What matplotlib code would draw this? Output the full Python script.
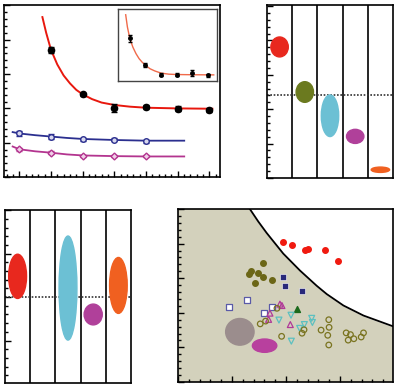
import numpy as np
import matplotlib
matplotlib.use("Agg")
import matplotlib.pyplot as plt
from matplotlib.patches import Ellipse
from matplotlib.ticker import MultipleLocator, NullFormatter

# ── panel A: decay curves ──
x_black = [2, 3, 4, 5, 6, 7]
y_black = [3.71, 2.41, 2.02, 2.04, 1.99, 1.96]
e_black = [0.09, 0.04, 0.12, 0.05, 0.07, 0.06]
fit_red_x = [1.73, 1.85, 2.0, 2.2, 2.4, 2.6, 2.8, 3.0, 3.3, 3.6, 4.0, 4.5, 5.0, 6.0, 7.1]
fit_red_y = [4.66, 4.20, 3.71, 3.28, 2.96, 2.73, 2.54, 2.41, 2.27, 2.17, 2.10, 2.05, 2.02, 2.00, 1.99]

x_blue = [1, 2, 3, 4, 5]
y_blue = [1.27, 1.18, 1.10, 1.09, 1.04]
e_blue = [0.08, 0.06, 0.04, 0.04, 0.04]
fit_blue_x = [0.79, 1.0, 1.5, 2.0, 2.5, 3.0, 4.0, 5.0, 6.21]
fit_blue_y = [1.31, 1.27, 1.22, 1.18, 1.14, 1.11, 1.08, 1.06, 1.06]

x_mag = [1, 2, 3, 4, 5]
y_mag = [0.81, 0.71, 0.62, 0.61, 0.60]
e_mag = [0.04, 0.04, 0.03, 0.03, 0.03]
fit_mag_x = [0.79, 1.0, 1.5, 2.0, 2.5, 3.0, 4.0, 5.0, 6.21]
fit_mag_y = [0.89, 0.81, 0.75, 0.71, 0.66, 0.63, 0.61, 0.60, 0.60]

# inset
x_in = [1, 2, 3, 4, 5, 6]
y_in = [0.595, 0.219, 0.088, 0.088, 0.107, 0.079]
e_in = [0.05, 0.03, 0.025, 0.02, 0.04, 0.025]
fit_in_x = [0.74, 0.85, 1.0, 1.2, 1.4, 1.6, 1.8, 2.0, 2.3, 2.6, 3.0, 3.5, 4.0, 5.0, 6.38]
fit_in_y = [0.92, 0.75, 0.595, 0.47, 0.38, 0.31, 0.26, 0.22, 0.17, 0.14, 0.11, 0.095, 0.09, 0.087, 0.085]

# ── panel B: ellipses per column ──
b_cols = [0.5, 1.5, 2.5, 3.5, 4.5]
b_y = [3.81, 2.50, 1.81, 1.21, 0.24]
b_h = [0.58, 0.60, 1.21, 0.41, 0.155]
b_w = [0.69, 0.69, 0.69, 0.69, 0.73]
b_colors = ["#e8281e", "#6b7a1f", "#6cc0d4", "#b0409a", "#f06020"]
b_ref = 2.41

# ── panel C ──
c_cols = [0.5, 2.5, 3.5, 4.5]
c_y = [0.48, 0.21, -0.40, 0.27]
c_h = [1.02, 2.40, 0.48, 1.29]
c_w = [0.71, 0.71, 0.72, 0.70]
c_colors = ["#e8281e", "#6cc0d4", "#b0409a", "#f06020"]
c_ref = 0.0

# ── panel D: scatter with boundary ──
bound_x = [1.330, 1.485, 1.640, 1.949, 2.259, 2.568, 2.754, 3.063, 3.434, 3.979]
bound_y = [5.00, 4.64, 4.31, 3.71, 3.22, 2.78, 2.54, 2.21, 1.92, 1.61]
red_x = [1.937, 2.116, 2.345, 2.413, 2.729, 2.958]
red_y = [4.06, 3.97, 3.82, 3.85, 3.82, 3.50]
olf_x = [1.572, 1.349, 1.312, 1.473, 1.572, 1.733, 1.417]
olf_y = [3.44, 3.20, 3.12, 3.15, 3.03, 2.95, 2.85]
nsq_x = [1.949, 1.974, 2.296]
nsq_y = [3.03, 2.78, 2.64]
osq_x = [0.953, 1.275, 1.597, 1.733]
osq_y = [2.18, 2.36, 1.99, 2.18]
tri_x = [1.887, 1.924, 1.702, 1.677, 2.079]
tri_y = [2.25, 2.21, 1.99, 1.81, 1.66]
gtri_x = [2.209]
gtri_y = [2.11]
dtri_x = [1.869, 2.092, 2.252, 2.339, 2.475, 2.488, 2.098]
dtri_y = [1.79, 1.93, 1.55, 1.66, 1.84, 1.72, 1.18]
oci_x = [1.522, 1.621, 1.832, 1.918, 2.296, 2.333, 2.649, 2.791, 2.797, 2.772, 2.791,
         3.113, 3.150, 3.193, 3.255, 3.391, 3.434]
oci_y = [1.68, 1.76, 2.13, 1.32, 1.41, 1.51, 1.50, 1.80, 1.58, 1.35, 1.07,
         1.42, 1.21, 1.37, 1.25, 1.30, 1.42]
gray_blob = (1.145, 1.45, 0.526, 0.77)
mag_blob = (1.603, 1.05, 0.452, 0.385)


def style(ax, xminor=None, xmajor=None, yminor=0.2, ymajor=1.0, bottom=True):
    for s in ax.spines.values():
        s.set_linewidth(1.2)
    ax.yaxis.set_major_locator(MultipleLocator(ymajor))
    ax.yaxis.set_minor_locator(MultipleLocator(yminor))
    if bottom:
        ax.xaxis.set_major_locator(MultipleLocator(xmajor))
        ax.xaxis.set_minor_locator(MultipleLocator(xminor))
    else:
        ax.set_xticks([])
    ax.tick_params(which="both", direction="in", top=False, right=False,
                   labelleft=False, labelbottom=False, width=1.0, bottom=bottom)
    ax.tick_params(which="major", length=4)
    ax.tick_params(which="minor", length=2)


fig = plt.figure(figsize=(4, 3.9), dpi=100)

# panel A
ax1 = fig.add_axes([0.01, 0.546, 0.54, 0.441])
ax1.plot(fit_red_x, fit_red_y, color="#e8180e", lw=1.4)
ax1.errorbar(x_black, y_black, yerr=e_black, fmt="o", color="black", ms=4.5,
             capsize=2, elinewidth=1.2)
ax1.plot(fit_blue_x, fit_blue_y, color="#2b2f8f", lw=1.3)
ax1.errorbar(x_blue, y_blue, yerr=e_blue, fmt="o", color="#2b2f8f", mfc="#d8d8ee",
             ms=4, capsize=2, elinewidth=1)
ax1.plot(fit_mag_x, fit_mag_y, color="#b3348f", lw=1.3)
ax1.errorbar(x_mag, y_mag, yerr=e_mag, fmt="D", color="#b3348f", mfc="#f0d0e8",
             ms=3.5, capsize=2, elinewidth=1)
ax1.set_xlim(0.517, 7.34)
ax1.set_ylim(0, 5.01)
style(ax1, xminor=0.2, xmajor=1.0)

axi = fig.add_axes([0.295, 0.7923, 0.2475, 0.1846])
axi.plot(fit_in_x, fit_in_y, color="#f06a4a", lw=1.0)
axi.errorbar(x_in, y_in, yerr=e_in, fmt="o", color="black", ms=2.5, capsize=1.2,
             elinewidth=0.9)
axi.set_xlim(0.247, 6.59)
axi.set_ylim(0, 1.0)
axi.set_xticks([])
axi.set_yticks([])
for s in axi.spines.values():
    s.set_linewidth(1.0)
    s.set_color("#444444")

# panel B
ax2 = fig.add_axes([0.6675, 0.5436, 0.315, 0.4436])
for xc, yc, w, h, c in zip(b_cols, b_y, b_w, b_h, b_colors):
    ax2.add_patch(Ellipse((xc, yc), w, h, color=c, zorder=3))
ax2.axhline(b_ref, color="#333333", lw=1.2, ls=(0, (1, 1)), zorder=2)
for xv in range(1, 5):
    ax2.axvline(xv, color="black", lw=1.2, zorder=1)
ax2.set_xlim(0, 5)
ax2.set_ylim(0, 5.03)
style(ax2, bottom=False)

# panel C
ax3 = fig.add_axes([0.0125, 0.01795, 0.315, 0.4436])
for xc, yc, w, h, c in zip(c_cols, c_y, c_w, c_h, c_colors):
    ax3.add_patch(Ellipse((xc, yc), w, h, color=c, zorder=3))
ax3.axhline(c_ref, color="#333333", lw=1.2, ls=(0, (1, 1)), zorder=2)
for xv in range(1, 5):
    ax3.axvline(xv, color="black", lw=1.2, zorder=1)
ax3.set_xlim(0, 5)
ax3.set_ylim(-1.98, 2.01)
style(ax3, bottom=False)

# panel D
ax4 = fig.add_axes([0.445, 0.0205, 0.5375, 0.4436])
ax4.set_facecolor("#d3d1bc")
ax4.fill_between(bound_x, bound_y, 5.0, color="white", zorder=1)
ax4.plot(bound_x, bound_y, color="black", lw=1.3, zorder=2)
gx, gy, gw, gh = gray_blob
ax4.add_patch(Ellipse((gx, gy), gw, gh, color="#9b8d8d", zorder=3))
mx, my, mw, mh = mag_blob
ax4.add_patch(Ellipse((mx, my), mw, mh, color="#b8409e", zorder=3))
ax4.scatter(red_x, red_y, s=16, color="#f01a10", zorder=4)
ax4.scatter(olf_x, olf_y, s=16, color="#6b6616", zorder=4)
ax4.scatter(nsq_x, nsq_y, s=14, marker="s", color="#28287a", edgecolor="white",
            linewidth=0.4, zorder=4)
ax4.scatter(osq_x, osq_y, s=14, marker="s", facecolor="white", edgecolor="#5a5aa8",
            linewidth=0.9, zorder=4)
ax4.scatter(tri_x, tri_y, s=18, marker="^", facecolor="none", edgecolor="#b03898",
            linewidth=0.9, zorder=4)
ax4.scatter(gtri_x, gtri_y, s=18, marker="^", color="#1c6a1c", zorder=4)
ax4.scatter(dtri_x, dtri_y, s=18, marker="v", facecolor="none", edgecolor="#5cc0c0",
            linewidth=0.9, zorder=4)
ax4.scatter(oci_x, oci_y, s=16, facecolor="none", edgecolor="#7a7420",
            linewidth=0.9, zorder=4)
ax4.set_xlim(0, 3.98)
ax4.set_ylim(0, 5.0)
style(ax4, xminor=0.2, xmajor=1.0)

fig.savefig("out.png", dpi=100)
